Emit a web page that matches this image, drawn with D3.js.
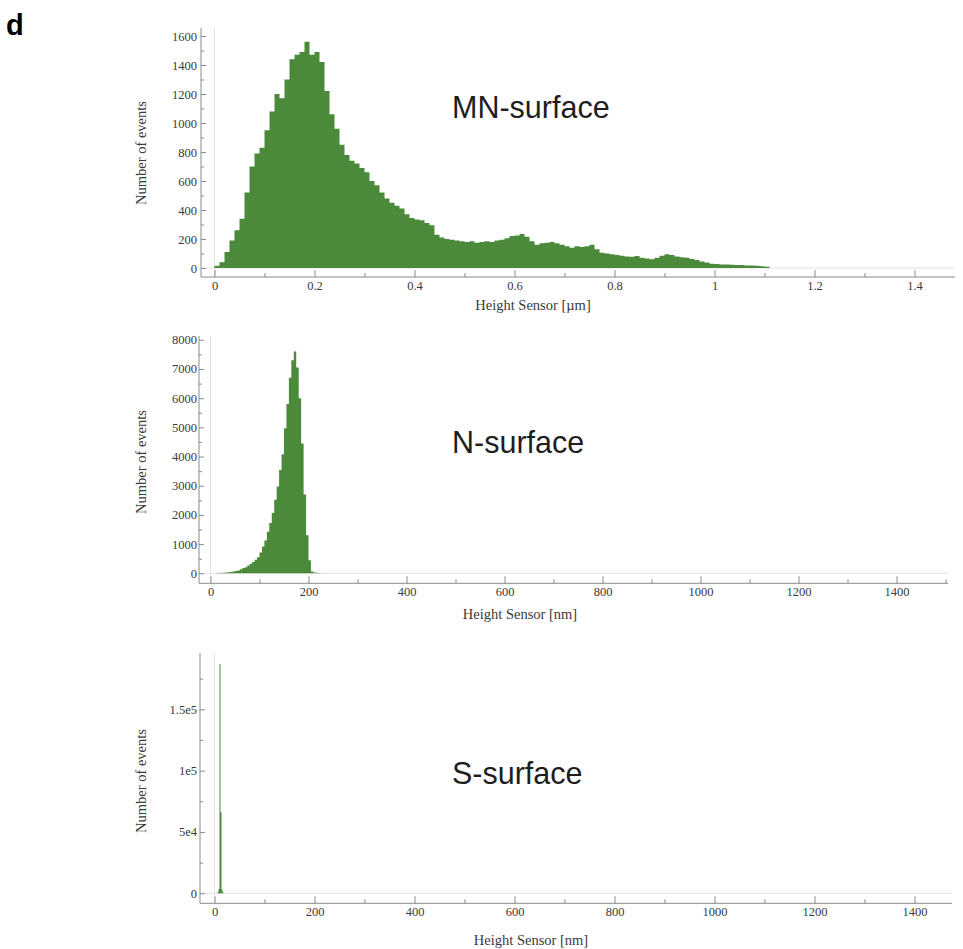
<!DOCTYPE html>
<html lang="en">
<head>
<meta charset="UTF-8">
<title>Height histograms</title>
<script src="https://d3js.org/d3.v7.min.js"></script>
<style>
    body { margin: 0; background: #fff; }
    .tick text { font-family: "Liberation Serif", "Times New Roman", serif; font-size: 12.5px; fill: #3a3a3a; }
    .tick line { stroke: #8a8a8a; }
    .axis-label { font-family: "Liberation Serif", "Times New Roman", serif; font-size: 14.5px; fill: #3a3a3a; }
    .panel-title { font-family: "Liberation Sans", Arial, sans-serif; font-size: 30.5px; fill: #1e1e1e; }
</style>
</head>
<body>
<svg width="963" height="949"></svg>
<script>
// MN-surface: counts per 0.01 µm bin, starting at 0
const mnBinWidth = 0.01;
const mnCounts = [
    15, 40, 110, 190, 260, 340, 520, 700, 790, 830,
    950, 1080, 1200, 1170, 1300, 1440, 1470, 1490, 1560, 1470,
    1490, 1420, 1220, 1060, 960, 850, 780, 740, 720, 690,
    660, 600, 570, 520, 480, 450, 430, 410, 370, 345,
    335, 330, 310, 295, 230, 210, 200, 195, 190, 185,
    180, 185, 175, 180, 185, 180, 190, 195, 205, 220,
    225, 235, 215, 185, 160, 170, 175, 180, 170, 160,
    150, 140, 150, 145, 150, 160, 130, 105, 100, 95,
    90, 85, 80, 78, 82, 70, 65, 60, 70, 85,
    95, 90, 80, 75, 70, 62, 55, 45, 38, 30,
    28, 25, 24, 22, 20, 20, 18, 17, 15, 12, 8
];
const mnXTicks = [0, 0.2, 0.4, 0.6, 0.8, 1, 1.2, 1.4];
const mnXMinor = [0.1, 0.3, 0.5, 0.7, 0.9, 1.1, 1.3];
const mnYTicks = [0, 200, 400, 600, 800, 1000, 1200, 1400, 1600];
const mnYMinor = [100, 300, 500, 700, 900, 1100, 1300, 1500];

// N-surface: counts per 5 nm bin, starting at 10 nm
const nStart = 10, nBinWidth = 5;
const nCounts = [
    8, 12, 15, 20, 25, 35, 45, 60, 80, 100,
    140, 180, 210, 270, 330, 390, 460, 550, 710, 920,
    1120, 1420, 1720, 2070, 2520, 2970, 3540, 4080, 4970, 5800,
    6700, 7300, 7600, 7050, 6000, 4450, 2700, 1300, 450, 60,
    30, 15, 8
];
const nXTicks = [0, 200, 400, 600, 800, 1000, 1200, 1400];
const nXMinor = [100, 300, 500, 700, 900, 1100, 1300, 1500];
const nYTicks = [0, 1000, 2000, 3000, 4000, 5000, 6000, 7000, 8000];
const nYMinor = [500, 1500, 2500, 3500, 4500, 5500, 6500, 7500];

// S-surface: counts per 2 nm bin, starting at 6 nm
const sStart = 6, sBinWidth = 2;
const sCounts = [800, 3500, 187000, 66000, 3000, 800];
const sXTicks = [0, 200, 400, 600, 800, 1000, 1200, 1400];
const sXMinor = [100, 300, 500, 700, 900, 1100, 1300];
const sYTicks = [0, 50000, 100000, 150000];
const sYLabels = ["0", "5e4", "1e5", "1.5e5"];
const sYMinor = [25000, 75000, 125000, 175000];

const svg = d3.select("svg");
const green = "#4b8a3a";

svg.append("text")
    .attr("x", 6).attr("y", 35)
    .style("font-family", "'Liberation Sans', Arial, sans-serif")
    .style("font-weight", "bold").style("font-size", "29px")
    .text("d");

function drawPanel(p) {
    const g = svg.append("g");
    const x = d3.scaleLinear().domain(p.xDomain).range(p.xRange);
    const y = d3.scaleLinear().domain(p.yDomain).range(p.yRange);

    // faint origin lines
    g.append("line")
        .attr("x1", x(0)).attr("x2", x(0))
        .attr("y1", p.frameTop).attr("y2", p.frameBottom)
        .attr("stroke", "#e2e2e2");
    g.append("line")
        .attr("x1", p.frameLeft).attr("x2", p.frameRight)
        .attr("y1", y(0)).attr("y2", y(0))
        .attr("stroke", "#e2e2e2");

    // histogram as a step area
    const pts = p.counts.map((c, i) => [p.start + i * p.binWidth, c]);
    pts.push([p.start + p.counts.length * p.binWidth, p.counts[p.counts.length - 1]]);
    const area = d3.area()
        .x(d => x(d[0]))
        .y0(y(0))
        .y1(d => y(d[1]))
        .curve(d3.curveStepAfter);
    g.append("path").datum(pts)
        .attr("d", area)
        .attr("fill", green);

    // frame
    g.append("line")
        .attr("x1", p.frameLeft).attr("x2", p.frameLeft)
        .attr("y1", p.frameTop).attr("y2", p.frameBottom)
        .attr("stroke", "#8a8a8a");
    g.append("line")
        .attr("x1", p.frameLeft).attr("x2", p.frameRight)
        .attr("y1", p.frameBottom).attr("y2", p.frameBottom)
        .attr("stroke", "#8a8a8a");

    // y axis
    g.append("g")
        .attr("transform", `translate(${p.frameLeft},0)`)
        .call(d3.axisLeft(y).tickValues(p.yTicks).tickSize(-5).tickPadding(p.yPad)
            .tickFormat((d, i) => p.yLabels ? p.yLabels[i] : String(d)))
        .call(a => a.select(".domain").remove());
    g.append("g")
        .attr("transform", `translate(${p.frameLeft},0)`)
        .call(d3.axisLeft(y).tickValues(p.yMinor).tickSize(-3).tickFormat(""))
        .call(a => a.select(".domain").remove());

    // x axis
    g.append("g")
        .attr("transform", `translate(0,${p.frameBottom})`)
        .call(d3.axisBottom(x).tickValues(p.xTicks).tickSize(-7).tickPadding(4)
            .tickFormat(d => String(d)))
        .call(a => a.select(".domain").remove());
    g.append("g")
        .attr("transform", `translate(0,${p.frameBottom})`)
        .call(d3.axisBottom(x).tickValues(p.xMinor).tickSize(-4).tickFormat(""))
        .call(a => a.select(".domain").remove());

    g.selectAll(".tick text").attr("font-size", null).attr("font-family", null).attr("fill", null);

    g.append("text")
        .attr("class", "axis-label")
        .attr("x", p.xLabelX).attr("y", p.xLabelY)
        .attr("text-anchor", "middle")
        .text(p.xLabel);

    g.append("text")
        .attr("class", "axis-label")
        .attr("transform", `translate(146,${p.yLabelY}) rotate(-90)`)
        .attr("text-anchor", "middle")
        .text("Number of events");

    g.append("text")
        .attr("class", "panel-title")
        .attr("x", 452).attr("y", p.titleY)
        .text(p.title);
}

drawPanel({
    counts: mnCounts, start: 0, binWidth: mnBinWidth,
    xDomain: [0, 1.5], xRange: [214.5, 964.5],
    yDomain: [0, 1600], yRange: [268, 36],
    frameLeft: 201, frameRight: 955, frameTop: 28, frameBottom: 277,
    xTicks: mnXTicks, xMinor: mnXMinor, yTicks: mnYTicks, yMinor: mnYMinor, yPad: 4,
    xLabel: "Height Sensor [µm]", xLabelX: 533, xLabelY: 310, yLabelY: 153,
    title: "MN-surface", titleY: 118
});

drawPanel({
    counts: nCounts, start: nStart, binWidth: nBinWidth,
    xDomain: [0, 1500], xRange: [210.5, 945.5],
    yDomain: [0, 8000], yRange: [573.3, 339.8],
    frameLeft: 199, frameRight: 948, frameTop: 336, frameBottom: 583.3,
    xTicks: nXTicks, xMinor: nXMinor, yTicks: nYTicks, yMinor: nYMinor, yPad: 2,
    xLabel: "Height Sensor [nm]", xLabelX: 520, xLabelY: 619, yLabelY: 462,
    title: "N-surface", titleY: 453
});

drawPanel({
    counts: sCounts, start: sStart, binWidth: sBinWidth,
    xDomain: [0, 1400], xRange: [214.5, 914.5],
    yDomain: [0, 150000], yRange: [893.3, 709.3],
    frameLeft: 200, frameRight: 952, frameTop: 653, frameBottom: 903.3,
    xTicks: sXTicks, xMinor: sXMinor, yTicks: sYTicks, yLabels: sYLabels, yMinor: sYMinor, yPad: 3,
    xLabel: "Height Sensor [nm]", xLabelX: 531, xLabelY: 945, yLabelY: 781,
    title: "S-surface", titleY: 784
});
</script>
</body>
</html>
